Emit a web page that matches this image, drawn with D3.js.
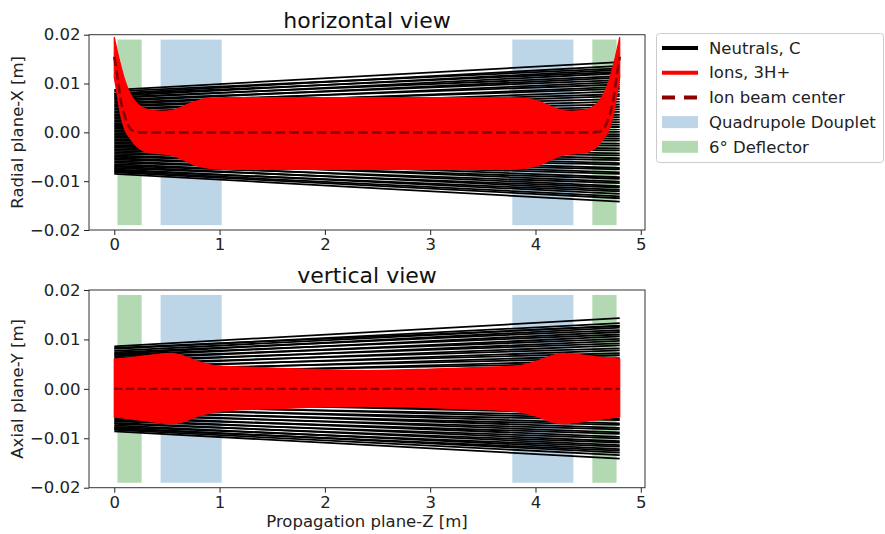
<!DOCTYPE html>
<html>
<head>
<meta charset="utf-8">
<script src="https://cdn.jsdelivr.net/npm/d3@7"></script>
<style>
  body { margin: 0; background: #fff; }
  svg { display: block; font-family: "DejaVu Sans", sans-serif; }
</style>
</head>
<body>
<svg id="chart" width="885" height="534"></svg>
<script>
// Beamline elements along the propagation axis Z [m]
const quadrupoles = [[0.44, 1.02], [3.78, 4.36]];
const deflectors = [[0.03, 0.26], [4.54, 4.77]];
const elementHalfHeight = 0.019;

// Neutral (carbon) trajectories: transverse position at Z = 0 and at Z = 4.8
const zStart = 0.0, zEnd = 4.8;
const neutralXStart = [0.0087, 0.0084, 0.0080, 0.0078, 0.0075, 0.0072, 0.0070, 0.0067, 0.0064, 0.0061, 0.0058, 0.0055, 0.0052, 0.0049, 0.0046, 0.0043, 0.0040, 0.0037, 0.0034, 0.0031, 0.0028, 0.0025, 0.0022, 0.0019, 0.0016, 0.0013, 0.0010, 0.0007, 0.0004, 0.0001, -0.0002, -0.0005, -0.0008, -0.0011, -0.0014, -0.0017, -0.0020, -0.0023, -0.0026, -0.0029, -0.0032, -0.0035, -0.0038, -0.0041, -0.0044, -0.0047, -0.0050, -0.0053, -0.0056, -0.0059, -0.0062, -0.0065, -0.0068, -0.0070, -0.0073, -0.0076, -0.0078, -0.0080, -0.0082, -0.0085];
const neutralXEnd = [0.0144, 0.0131, 0.0136, 0.0124, 0.0128, 0.0115, 0.0121, 0.0107, 0.0112, 0.0098, 0.0103, 0.0089, 0.0093, 0.0078, 0.0084, 0.0068, 0.0074, 0.0057, 0.0063, 0.0047, 0.0052, 0.0036, 0.0042, 0.0026, 0.0031, 0.0016, 0.0021, 0.0006, 0.0011, -0.0004, 0.0001, -0.0013, -0.0008, -0.0023, -0.0017, -0.0033, -0.0027, -0.0043, -0.0037, -0.0053, -0.0047, -0.0063, -0.0057, -0.0073, -0.0066, -0.0082, -0.0076, -0.0092, -0.0085, -0.0101, -0.0095, -0.0110, -0.0104, -0.0118, -0.0113, -0.0126, -0.0121, -0.0131, -0.0135, -0.0142];
const neutralYStart = [0.0086, 0.0083, 0.0081, 0.0077, 0.0074, 0.0071, 0.0069, 0.0066, 0.0063, 0.0060, 0.0057, 0.0054, 0.0051, 0.0048, 0.0045, 0.0042, 0.0039, 0.0036, 0.0033, 0.0030, 0.0027, 0.0024, 0.0021, 0.0018, 0.0015, 0.0012, 0.0009, 0.0006, 0.0003, 0.0000, -0.0003, -0.0006, -0.0009, -0.0012, -0.0015, -0.0018, -0.0021, -0.0024, -0.0027, -0.0030, -0.0033, -0.0036, -0.0039, -0.0042, -0.0045, -0.0048, -0.0051, -0.0054, -0.0057, -0.0060, -0.0063, -0.0066, -0.0069, -0.0071, -0.0074, -0.0077, -0.0079, -0.0081, -0.0083, -0.0086];
const neutralYEnd = [0.0143, 0.0127, 0.0133, 0.0128, 0.0119, 0.0124, 0.0110, 0.0115, 0.0101, 0.0106, 0.0092, 0.0097, 0.0082, 0.0088, 0.0072, 0.0078, 0.0062, 0.0068, 0.0052, 0.0058, 0.0041, 0.0047, 0.0031, 0.0037, 0.0021, 0.0027, 0.0011, 0.0017, 0.0000, 0.0006, -0.0010, -0.0004, -0.0020, -0.0014, -0.0030, -0.0024, -0.0040, -0.0034, -0.0050, -0.0044, -0.0060, -0.0054, -0.0070, -0.0063, -0.0079, -0.0073, -0.0088, -0.0082, -0.0097, -0.0091, -0.0106, -0.0100, -0.0114, -0.0109, -0.0122, -0.0117, -0.0129, -0.0125, -0.0134, -0.0141];

// Ion (3H+) beam envelope in the radial plane X
const ionZX = [0, 0.03, 0.06, 0.10, 0.15, 0.20, 0.26, 0.33, 0.45, 0.55, 0.65, 0.75, 0.85, 0.95, 1.05, 1.60, 2.40, 3.20, 3.75, 3.85, 3.95, 4.05, 4.15, 4.25, 4.35, 4.47, 4.54, 4.60, 4.65, 4.70, 4.74, 4.77, 4.80];
const ionXUpper = [0.0195, 0.0165, 0.0138, 0.0107, 0.0080, 0.0063, 0.0052, 0.0046, 0.0043, 0.0045, 0.0053, 0.0062, 0.0068, 0.0070, 0.0071, 0.0071, 0.0071, 0.0071, 0.0071, 0.0070, 0.0068, 0.0062, 0.0053, 0.0045, 0.0043, 0.0046, 0.0052, 0.0063, 0.0080, 0.0107, 0.0138, 0.0165, 0.0195];
const ionXLower = [0.0112, 0.0075, 0.0036, 0.0006, -0.0012, -0.0026, -0.0036, -0.0042, -0.0044, -0.0047, -0.0056, -0.0066, -0.0072, -0.0075, -0.0076, -0.0076, -0.0076, -0.0076, -0.0076, -0.0075, -0.0072, -0.0066, -0.0056, -0.0047, -0.0044, -0.0042, -0.0036, -0.0026, -0.0012, 0.0006, 0.0036, 0.0075, 0.0112];
const ionXCenter = [0.0155, 0.0115, 0.0068, 0.0033, 0.0008, 0.0001, 0, 0, 0, 0, 0, 0, 0, 0, 0, 0, 0, 0, 0, 0, 0, 0, 0, 0, 0, 0, 0, 0.0001, 0.0008, 0.0033, 0.0068, 0.0115, 0.0155];

// Ion (3H+) beam envelope in the axial plane Y
const ionZY = [0, 0.15, 0.30, 0.45, 0.55, 0.65, 0.80, 0.95, 1.10, 1.40, 1.80, 2.40, 3.00, 3.40, 3.70, 3.85, 4.00, 4.15, 4.25, 4.35, 4.50, 4.65, 4.80];
const ionYUpper = [0.0060, 0.0063, 0.0067, 0.0071, 0.0072, 0.0067, 0.0055, 0.0047, 0.0045, 0.0043, 0.0040, 0.0037, 0.0040, 0.0043, 0.0045, 0.0047, 0.0055, 0.0067, 0.0072, 0.0071, 0.0067, 0.0063, 0.0060];
const ionYLower = [-0.0057, -0.0061, -0.0065, -0.0069, -0.0071, -0.0067, -0.0055, -0.0047, -0.0044, -0.0041, -0.0038, -0.0035, -0.0038, -0.0041, -0.0044, -0.0047, -0.0055, -0.0067, -0.0071, -0.0069, -0.0065, -0.0061, -0.0057];
const ionYCenter = [0, 0, 0, 0, 0, 0, 0, 0, 0, 0, 0, 0, 0, 0, 0, 0, 0, 0, 0, 0, 0, 0, 0];

// Axis ticks
const zTicks = [0, 1, 2, 3, 4, 5];
const tTicks = [-0.02, -0.01, 0.00, 0.01, 0.02];

const colors = {
  neutral: "#000000",
  ion: "#ff0000",
  center: "#8b0000",
  quad: "rgb(188,214,232)",
  defl: "rgb(179,217,179)"
};

const svg = d3.select("#chart");
const FONT = 16.5;

const panels = [
  {title: "horizontal view", ylabel: "Radial plane-X [m]", top: 34.7, bottom: 230,
   nStart: neutralXStart, nEnd: neutralXEnd,
   ionZ: ionZX, up: ionXUpper, lo: ionXLower, ce: ionXCenter, dashW: 2.6, xlabel: null},
  {title: "vertical view", ylabel: "Axial plane-Y [m]", top: 290, bottom: 487.7,
   nStart: neutralYStart, nEnd: neutralYEnd,
   ionZ: ionZY, up: ionYUpper, lo: ionYLower, ce: ionYCenter, dashW: 2.2, xlabel: "Propagation plane-Z [m]"}
];

const left = 89, right = 645;
const x = d3.scaleLinear().domain([-0.24, 5.04]).range([left, right]);

panels.forEach((p, i) => {
  const y = d3.scaleLinear().domain([-0.02, 0.02]).range([p.bottom, p.top]);
  const g = svg.append("g");
  const clipId = "clip" + i;
  svg.append("clipPath").attr("id", clipId)
    .append("rect").attr("x", left).attr("y", p.top)
    .attr("width", right - left).attr("height", p.bottom - p.top);

  const plot = g.append("g").attr("clip-path", `url(#${clipId})`);

  // beamline elements
  plot.selectAll(".quad").data(quadrupoles).join("rect")
    .attr("x", d => x(d[0])).attr("width", d => x(d[1]) - x(d[0]))
    .attr("y", y(elementHalfHeight)).attr("height", y(-elementHalfHeight) - y(elementHalfHeight))
    .attr("fill", colors.quad);
  plot.selectAll(".defl").data(deflectors).join("rect")
    .attr("x", d => x(d[0])).attr("width", d => x(d[1]) - x(d[0]))
    .attr("y", y(elementHalfHeight)).attr("height", y(-elementHalfHeight) - y(elementHalfHeight))
    .attr("fill", colors.defl);

  // neutral straight trajectories
  const neutrals = p.nStart.map((s, k) => [[zStart, s], [zEnd, p.nEnd[k]]]);
  const line = d3.line().x(d => x(d[0])).y(d => y(d[1]));
  plot.selectAll(".neutral").data(neutrals).join("path")
    .attr("d", line).attr("fill", "none")
    .attr("stroke", colors.neutral).attr("stroke-width", 1.8);

  // ion envelope
  const env = p.ionZ.map((z, k) => ({z, u: p.up[k], l: p.lo[k], c: p.ce[k]}));
  const area = d3.area().curve(d3.curveMonotoneX)
    .x(d => x(d.z)).y0(d => y(d.l)).y1(d => y(d.u));
  plot.append("path").datum(env).attr("d", area)
    .attr("fill", colors.ion).attr("stroke", colors.ion).attr("stroke-width", 1.2);

  // ion beam center
  const cline = d3.line().curve(d3.curveMonotoneX).x(d => x(d.z)).y(d => y(d.c));
  plot.append("path").datum(env).attr("d", cline)
    .attr("fill", "none").attr("stroke", colors.center)
    .attr("stroke-width", p.dashW)
    .attr("stroke-dasharray", `${p.dashW * 3.7},${p.dashW * 1.6}`);

  // axes
  const fmt = d3.format(".2f");
  const yAxis = d3.axisLeft(y).tickValues(tTicks).tickFormat(fmt).tickSize(5).tickPadding(3.5);
  const xAxis = d3.axisBottom(x).tickValues(zTicks).tickFormat(d3.format("d")).tickSize(5).tickPadding(3.5);
  const ya = g.append("g").attr("transform", `translate(${left},0)`).call(yAxis);
  const xa = g.append("g").attr("transform", `translate(0,${p.bottom})`).call(xAxis);
  [ya, xa].forEach(a => {
    a.select(".domain").remove();
    a.selectAll("line").attr("stroke", "#222").attr("stroke-width", 1);
    a.selectAll("text").attr("font-size", FONT).attr("fill", "#222")
      .attr("font-family", "DejaVu Sans, sans-serif");
  });

  // frame
  g.append("rect").attr("x", left).attr("y", p.top)
    .attr("width", right - left).attr("height", p.bottom - p.top)
    .attr("fill", "none").attr("stroke", "#333").attr("stroke-width", 1);

  // title
  g.append("text").attr("x", (left + right) / 2).attr("y", p.top - 7)
    .attr("text-anchor", "middle").attr("font-size", 22).attr("fill", "#111")
    .text(p.title);

  // y label
  g.append("text")
    .attr("transform", `translate(23,${(p.top + p.bottom) / 2}) rotate(-90)`)
    .attr("text-anchor", "middle").attr("font-size", FONT).attr("fill", "#222")
    .text(p.ylabel);

  if (p.xlabel) {
    g.append("text").attr("x", (left + right) / 2).attr("y", p.bottom + 39)
      .attr("text-anchor", "middle").attr("font-size", FONT).attr("fill", "#222")
      .text(p.xlabel);
  }
});

// legend
const legendItems = [
  {label: "Neutrals, C", type: "line", color: colors.neutral},
  {label: "Ions, 3H+", type: "line", color: colors.ion},
  {label: "Ion beam center", type: "dash", color: colors.center},
  {label: "Quadrupole Douplet", type: "patch", color: colors.quad},
  {label: "6° Deflector", type: "patch", color: colors.defl}
];
const lg = svg.append("g");
lg.append("rect").attr("x", 656.5).attr("y", 33.5).attr("width", 227).attr("height", 129)
  .attr("rx", 3).attr("fill", "#fff").attr("stroke", "#ccc").attr("stroke-width", 1);
legendItems.forEach((it, k) => {
  const cy = 48 + k * 24.7;
  if (it.type === "patch") {
    lg.append("rect").attr("x", 662).attr("y", cy - 6).attr("width", 36).attr("height", 12)
      .attr("fill", it.color);
  } else {
    lg.append("line").attr("x1", 662).attr("x2", 698).attr("y1", cy).attr("y2", cy)
      .attr("stroke", it.color).attr("stroke-width", 4)
      .attr("stroke-dasharray", it.type === "dash" ? "13,9" : null);
  }
  lg.append("text").attr("x", 709).attr("y", cy).attr("dy", "0.35em")
    .attr("font-size", FONT).attr("fill", "#222").text(it.label);
});
</script>
</body>
</html>
